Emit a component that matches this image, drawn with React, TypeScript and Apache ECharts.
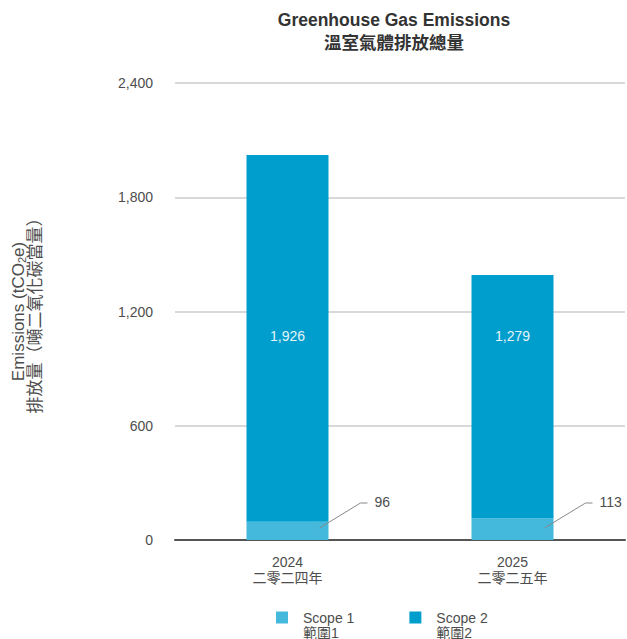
import React, { useEffect, useRef } from "react";
import * as echarts from "echarts";

const categories = ["2024", "2025"];
const categoriesZh = ["二零二四年", "二零二五年"];
const scope1 = [96, 113];
const scope2 = [1926, 1279];
const yTicks = { min: 0, max: 2400, interval: 600 };
const seriesNames = ["Scope 1", "Scope 2"];
const seriesNamesZh = ["範圍1", "範圍2"];

const FONT = "'Liberation Sans', Arial, 'Noto Sans CJK TC', sans-serif";
const TEXT = "#4d4d4d";
const TOTAL_LABEL_Y = 336;

export default function App() {
  const ref = useRef<HTMLDivElement>(null);
  useEffect(() => {
    if (!ref.current) return;
    const chart = echarts.init(ref.current, undefined, { renderer: "svg" });
    const fmt = (v: number) => v.toLocaleString("en-US");
    chart.setOption({
      animation: false,
      textStyle: { fontFamily: FONT },
      title: {
        text: "Greenhouse Gas Emissions\n溫室氣體排放總量",
        left: 394,
        top: 8,
        padding: 0,
        textAlign: "center",
        textStyle: {
          fontFamily: FONT,
          fontSize: 17.5,
          fontWeight: "bold",
          color: "#333",
          lineHeight: 23,
        },
      },
      legend: {
        data: seriesNames,
        left: 276,
        top: 595,
        padding: 0,
        itemWidth: 12,
        itemHeight: 12,
        itemGap: 55,
        icon: "rect",
        selectedMode: false,
        formatter: (name: string) => {
          const i = seriesNames.indexOf(name);
          return "\n" + name + "\n" + seriesNamesZh[i];
        },
        textStyle: {
          fontFamily: FONT,
          fontSize: 14,
          lineHeight: 15,
          color: TEXT,
          padding: [0, 0, 0, 10],
        },
      },
      grid: { left: 174, right: 2, top: 83, bottom: 99, containLabel: false },
      xAxis: {
        type: "category",
        data: categories,
        axisTick: { show: false },
        axisLine: { lineStyle: { color: "#555", width: 2 } },
        axisLabel: {
          margin: 14,
          fontFamily: FONT,
          fontSize: 14,
          lineHeight: 16,
          color: TEXT,
          formatter: (v: string) => v + "\n" + categoriesZh[categories.indexOf(v)],
        },
      },
      yAxis: {
        type: "value",
        min: yTicks.min,
        max: yTicks.max,
        interval: yTicks.interval,
        name: "{a|Emissions (tCO}{s|2}{a|e)}\n{a|排放量（噸二氧化碳當量）}",
        nameLocation: "middle",
        nameGap: 131,
        nameTextStyle: {
          fontFamily: FONT,
          fontSize: 17,
          color: TEXT,
          lineHeight: 17,
          rich: {
            a: { fontFamily: FONT, fontSize: 17, color: TEXT, lineHeight: 17 },
            s: { fontFamily: FONT, fontSize: 11, color: TEXT, lineHeight: 17, verticalAlign: "bottom", padding: [8, 0, 0, 0] },
          },
        },
        axisLine: { show: false },
        axisTick: { show: false },
        splitLine: { lineStyle: { color: "#cccccc", width: 1.5 } },
        axisLabel: {
          margin: 22,
          fontFamily: FONT,
          fontSize: 14,
          color: TEXT,
          formatter: (v: number) => fmt(v),
        },
      },
      series: [
        {
          name: seriesNames[0],
          type: "bar",
          stack: "total",
          barWidth: 82,
          data: scope1,
          itemStyle: { color: "#45b9dc" },
        },
        {
          name: seriesNames[1],
          type: "bar",
          stack: "total",
          barWidth: 82,
          data: scope2,
          itemStyle: { color: "#009ecd" },
          label: {
            show: true,
            position: "inside",
            fontFamily: FONT,
            fontSize: 14,
            color: "#e6f4fa",
            formatter: (p: any) => fmt(p.value),
          },
          labelLayout: (p: any) => ({
            x: p.rect.x + p.rect.width / 2,
            y: TOTAL_LABEL_Y,
            align: "center",
            verticalAlign: "middle",
          }),
        },
        {
          type: "custom",
          z: 10,
          silent: true,
          data: scope1.map((v, i) => [i, v]),
          encode: { x: 0, y: 1 },
          renderItem: (params: any, api: any) => {
            const base = api.coord([api.value(0), 0]);
            const cx = base[0];
            const by = base[1];
            return {
              type: "group",
              children: [
                {
                  type: "polyline",
                  shape: {
                    points: [
                      [cx + 32, by - 12],
                      [cx + 73, by - 37],
                      [cx + 80, by - 37],
                    ],
                  },
                  style: { stroke: "#888", lineWidth: 1, fill: "none" },
                },
                {
                  type: "text",
                  x: cx + 87,
                  y: by - 38,
                  style: {
                    text: fmt(api.value(1)),
                    fontFamily: FONT,
                    fontSize: 14,
                    fill: TEXT,
                    align: "left",
                    verticalAlign: "middle",
                  },
                },
              ],
            };
          },
        },
      ],
    });
    return () => chart.dispose();
  }, []);
  return (
    <div
      ref={ref}
      style={{ position: "absolute", left: 0, top: 0, width: 627, height: 639 }}
    />
  );
}
